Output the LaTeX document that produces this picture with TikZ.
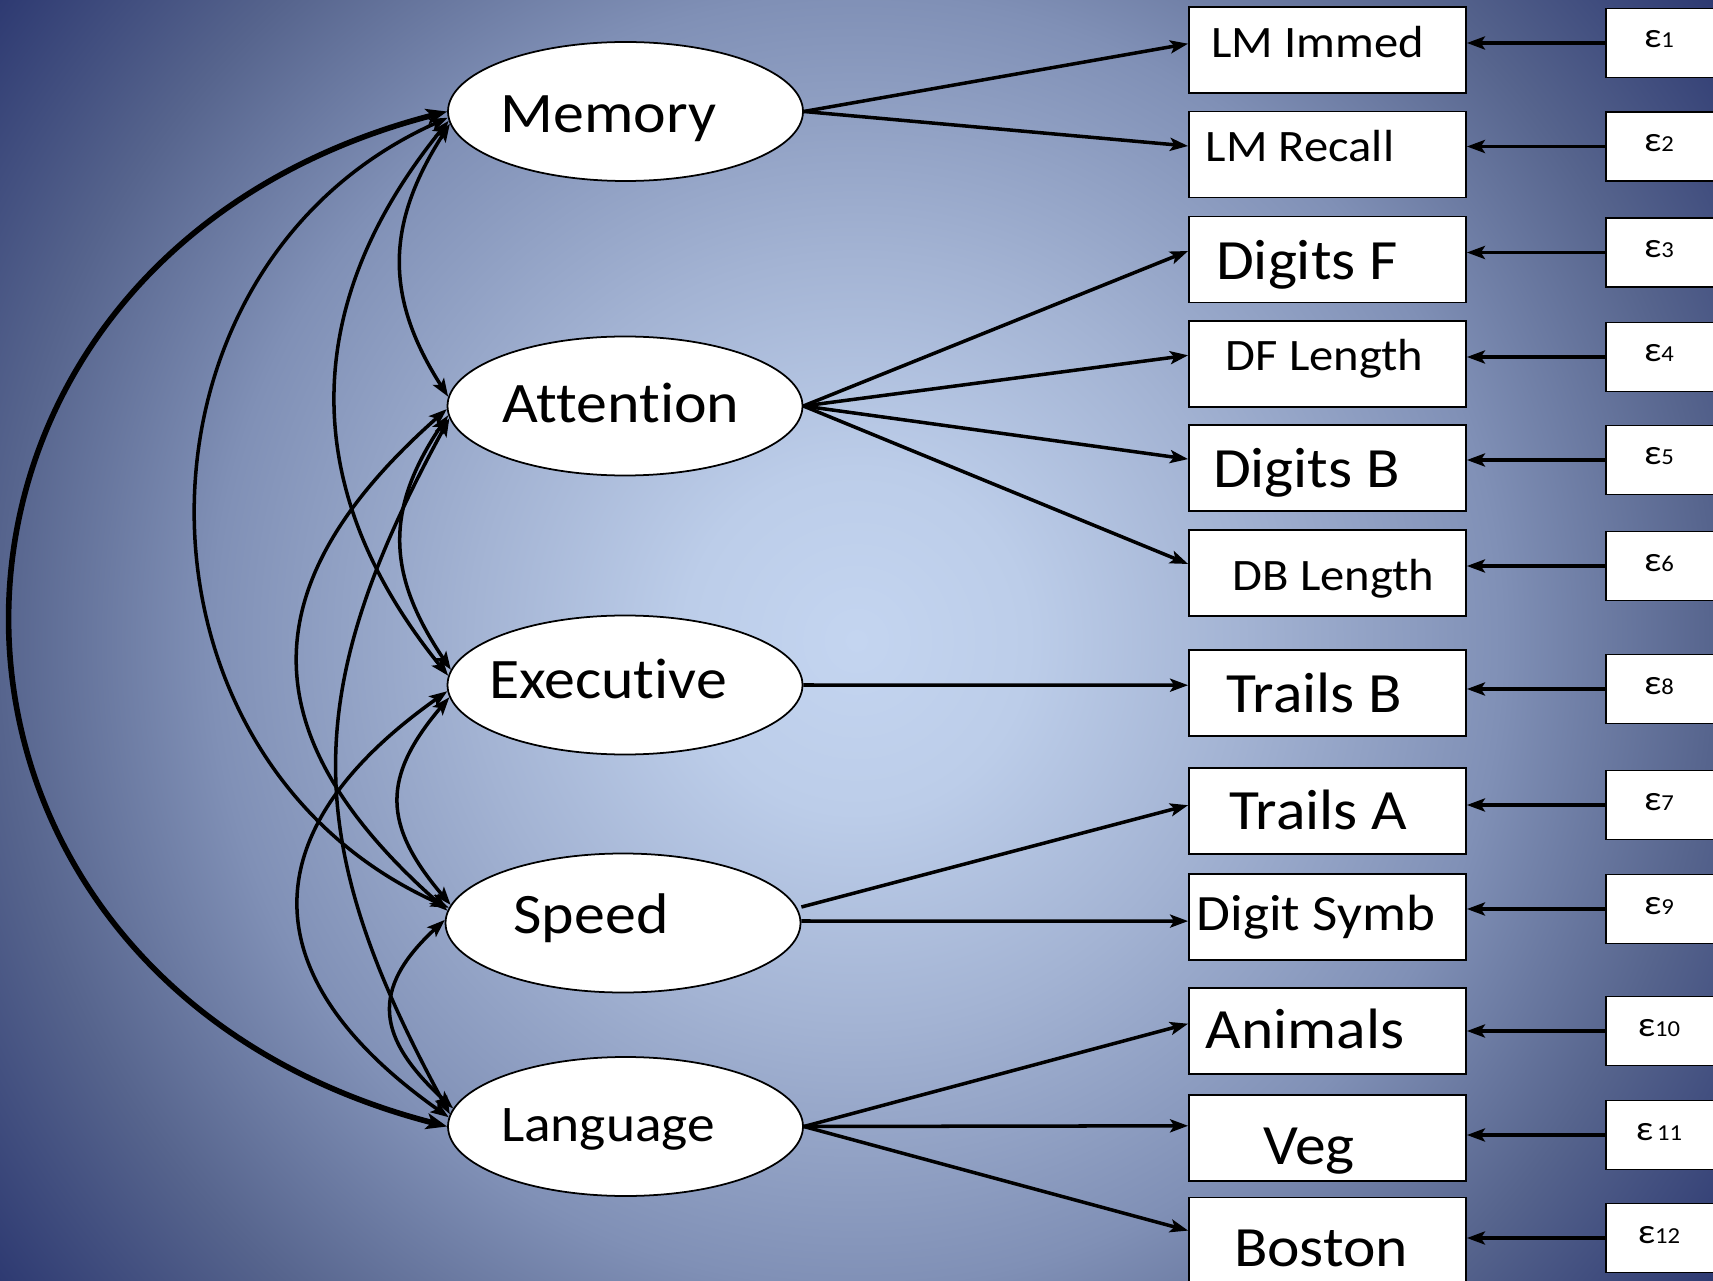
\documentclass[tikz,border=0pt]{standalone}
\usepackage{fontspec}
\setmainfont{Carlito}[FakeStretch=1.08, Ligatures=NoCommon]
\usetikzlibrary{arrows.meta,shapes.geometric}
\definecolor{bgA}{HTML}{C4D5F0}
\definecolor{bgB}{HTML}{BCCDE9}
\definecolor{bgC}{HTML}{A3B3D3}
\definecolor{bgD}{HTML}{8090B6}
\definecolor{bgE}{HTML}{56648D}
\definecolor{bgF}{HTML}{2D3971}
\pgfdeclareradialshading{bgshade}{\pgfpoint{0bp}{0bp}}{color(0bp)=(bgA); color(4bp)=(bgB); color(9bp)=(bgC); color(15bp)=(bgD); color(20bp)=(bgE); color(25bp)=(bgF); color(50bp)=(bgF)}
% text placed with its baseline at (node centre + #2), shifted sideways by #1
\newcommand\lbl[4]{\raisebox{#2}[0pt][0pt]{\makebox[0pt]{\kern#1\relax\fontsize{#3}{#3}\selectfont #4\kern-#1\relax}}}
\newcommand\eps[1]{\lbl{-1.7mm}{-0.5mm}{10}{ε{\fontsize{6.5}{7}\selectfont #1}}}
\tikzset{
  lat/.style={draw, ellipse, fill=white, line width=0.5pt, minimum width=35.5mm, minimum height=13.9mm, inner sep=0pt},
  obs/.style={draw, rectangle, fill=white, line width=0.5pt, minimum width=27.7mm, minimum height=8.6mm, inner sep=0pt},
  err/.style={draw, rectangle, fill=white, line width=0.5pt, minimum width=14mm, minimum height=6.9mm, inner sep=0pt},
  tip/.tip={Stealth[length=1.8mm,width=1.3mm,inset=0.4mm]},
  load/.style={line width=1pt, -tip},
  cov/.style={line width=1pt, tip-tip},
  bigcov/.style={line width=1.6pt, {Stealth[length=2.1mm,width=1.6mm,inset=0.5mm]}-{Stealth[length=2.1mm,width=1.6mm,inset=0.5mm]}},
}
\begin{document}
\begin{tikzpicture}[x=0.1mm, y=-0.1mm]
\useasboundingbox (0,0) rectangle (1713,1281);
\clip (0,0) rectangle (1713,1281);
\shade[shading=bgshade] (856.5,640.5) circle[radius=107.5mm];

% latent factors
\node[lat] (mem) at (625.5,111.5) {\lbl{-1.7mm}{-2.15mm}{16.3}{Memory}};
\node[lat] (att) at (625,406) {\lbl{-0.4mm}{-1.65mm}{16.3}{Attention}};
\node[lat] (exe) at (625,685) {\lbl{-1.7mm}{-1.35mm}{16.3}{Executive}};
\node[lat] (spd) at (623,923) {\lbl{-3.2mm}{-1.0mm}{16.3}{Speed}};
\node[lat] (lan) at (625.5,1126.5) {\lbl{-1.75mm}{-1.45mm}{14.6}{Language}};

% observed
\node[obs] (imm) at (1327.5,49.7) {\lbl{-1.0mm}{-0.8mm}{12.8}{LM Immed}};
\node[obs] (rec) at (1327.5,154.6) {\lbl{-2.75mm}{-0.7mm}{12.8}{LM Recall}};
\node[obs] (dgf) at (1327.5,259.5) {\lbl{-2.05mm}{-2.0mm}{16.2}{Digits F}};
\node[obs] (dfl) at (1327.5,364.3) {\lbl{-0.3mm}{-0.6mm}{12.8}{DF Length}};
\node[obs] (dgb) at (1327.5,468.1) {\lbl{-2.1mm}{-1.9mm}{16.2}{Digits B}};
\node[obs] (dbl) at (1327.5,573) {\lbl{0.6mm}{-1.7mm}{12.8}{DB Length}};
\node[obs] (trb) at (1327.5,693.2) {\lbl{-1.3mm}{-1.9mm}{16.2}{Trails B}};
\node[obs] (tra) at (1327.5,811.2) {\lbl{-0.9mm}{-1.8mm}{16.2}{Trails A}};
\node[obs] (dsy) at (1327.5,917.1) {\lbl{-1.15mm}{-1.3mm}{14.5}{Digit Symb}};
\node[obs] (ani) at (1327.5,1030.7) {\lbl{-2.25mm}{-1.75mm}{16.2}{Animals}};
\node[obs] (veg) at (1327.5,1137.8) {\lbl{-1.85mm}{-2.7mm}{16.2}{Veg}};
\node[obs] (bos) at (1327.5,1240.6) {\lbl{-0.65mm}{-2.6mm}{16.2}{Boston}};

% errors
\node[err] (e1) at (1676,43) {\eps{1}};
\node[err] (e2) at (1676,146.5) {\eps{2}};
\node[err] (e3) at (1676,252.5) {\eps{3}};
\node[err] (e4) at (1676,357) {\eps{4}};
\node[err] (e5) at (1676,460) {\eps{5}};
\node[err] (e6) at (1676,566) {\eps{6}};
\node[err] (e8) at (1676,689) {\eps{8}};
\node[err] (e7) at (1676,805) {\eps{7}};
\node[err] (e9) at (1676,909) {\eps{9}};
\node[err] (e10) at (1676,1031) {\eps{10}};
\node[err] (e11) at (1676,1135) {\eps{\,11}};
\node[err] (e12) at (1676,1238) {\eps{12}};

% error arrows
\foreach \e/\b in {e1/imm,e2/rec,e3/dgf,e4/dfl,e5/dgb,e6/dbl,e8/trb,e7/tra,e9/dsy,e10/ani,e11/veg,e12/bos}
  \draw[load] (\e.west) -- (\e.west -| \b.east);

% loadings
\draw[load] (mem.east) -- ([yshift=0.6mm]imm.west);
\draw[load] (mem.east) -- ([yshift=0.86mm]rec.west);
\draw[load] (att.east) -- ([yshift=0.85mm]dgf.west);
\draw[load] (att.east) -- ([yshift=0.9mm]dfl.west);
\draw[load] (att.east) -- ([yshift=0.9mm]dgb.west);
\draw[load] (att.east) -- ([yshift=0.9mm]dbl.west);
\draw[load] (exe.east) -- ([yshift=0.8mm]trb.west);
\draw[load] ([yshift=1.6mm]spd.east) -- ([yshift=0.6mm]tra.west);
\draw[load] ([yshift=0.2mm]spd.east) -- ([yshift=-0.4mm]dsy.west);
\draw[load] (lan.east) -- ([yshift=0.7mm]ani.west);
\draw[load] (lan.east) -- ([yshift=1.2mm]veg.west);
\draw[load] (lan.east) -- ([yshift=1.0mm]bos.west);

% covariances
\draw[bigcov] (mem.west) .. controls +(-580,150) and +(-580,-150) .. (lan.west);
\draw[cov] (mem.182) .. controls +(-335,150) and +(-335,-150) .. (spd.175);
\draw[cov] (mem.183) .. controls +(-150,185) and +(-150,-185) .. (exe.177);
\draw[cov] (mem.184) .. controls +(-64,100) and +(-64,-100) .. (att.177);
\draw[cov] (att.183) .. controls +(-64,95) and +(-64,-95) .. (exe.175);
\draw[cov] (att.181) .. controls +(-198,175) and +(-198,-175) .. (spd.176);
\draw[cov] (att.184) .. controls +(-150,275) and +(-150,-275) .. (lan.176);
\draw[cov] (exe.184) .. controls +(-68,80) and +(-68,-80) .. (spd.174);
\draw[cov] (exe.182) .. controls +(-198,140) and +(-198,-140) .. (lan.177);
\draw[cov] (spd.179) .. controls +(-76,70) and +(-76,-70) .. (lan.174);
\end{tikzpicture}
\end{document}
